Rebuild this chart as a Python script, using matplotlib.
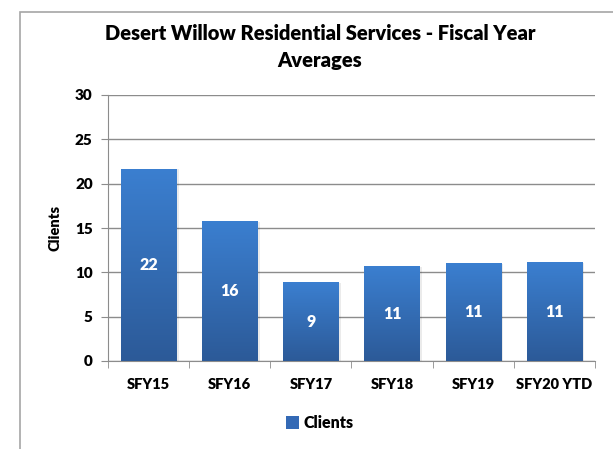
import numpy as np
import matplotlib
matplotlib.use("Agg")
from matplotlib import pyplot as plt
from matplotlib import patches
from matplotlib.colors import LinearSegmentedColormap

plt.rcParams['font.family'] = ['Lato', 'DejaVu Sans']

categories = ['SFY15', 'SFY16', 'SFY17', 'SFY18', 'SFY19', 'SFY20 YTD']
clients = [21.7, 15.8, 8.9, 10.7, 11.05, 11.15]
labels = ['22', '16', '9', '11', '11', '11']

W = 'heavy'

fig = plt.figure(figsize=(6.13, 4.49), dpi=100)
ax = fig.add_axes([108/613, 1-361/449, (595-108)/613, (361-95)/449])

# outer chart frame (cropped on right/bottom like the screenshot)
fig.patches.append(patches.Rectangle((20/613, -0.1), 1.2, 1-12/449+0.1,
                                     transform=fig.transFigure, fill=False,
                                     edgecolor='#a6a6a6', linewidth=1.2))

x = np.arange(len(categories))
bars = ax.bar(x, clients, width=0.68, color='none', edgecolor='none', zorder=3)

cmap = LinearSegmentedColormap.from_list('g', ['#2c5a98', '#3b7fd0'])
grad = np.linspace(0, 1, 256).reshape(-1, 1)
for b in bars:
    x0, w, h = b.get_x(), b.get_width(), b.get_height()
    # faint shadow
    ax.add_patch(patches.Rectangle((x0 + 0.03, 0), w, h - 0.1, facecolor='#000000',
                                   alpha=0.08, edgecolor='none', zorder=2))
    im = ax.imshow(grad, extent=[x0, x0 + w, 0, h], origin='lower', cmap=cmap,
                   aspect='auto', zorder=3)
    im.set_clip_path(b)

for xi, v, lab in zip(x, clients, labels):
    ax.text(xi, v / 2, lab, ha='center', va='center', color='white',
            fontsize=11.5, fontweight=W, zorder=4)

ax.set_xlim(-0.5, len(categories) - 0.5)
ax.set_ylim(0, 30)
ax.set_yticks(range(0, 31, 5))
ax.set_xticks(x)
ax.set_xticklabels(categories, fontsize=10.5, fontweight=W)
ax.set_xticks(np.arange(-0.5, len(categories), 1), minor=True)
ax.tick_params(axis='x', which='major', length=0, pad=12)
ax.tick_params(axis='x', which='minor', length=5, color='#8c8c8c')
ax.tick_params(axis='y', length=5, color='#8c8c8c', labelsize=11, pad=6)
for t in ax.get_yticklabels():
    t.set_fontweight(W)

ax.grid(axis='y', color='#8c8c8c', linewidth=1, zorder=0)
ax.set_axisbelow(True)
for s in ['top', 'right']:
    ax.spines[s].set_visible(False)
for s in ['left', 'bottom']:
    ax.spines[s].set_color('#8c8c8c')

ax.set_ylabel('Clients', fontsize=10.5, fontweight=W, labelpad=10)

fig.text(320/613, 1-33/449, 'Desert Willow Residential Services - Fiscal Year',
         ha='center', va='center', fontsize=14.5, fontweight=W)
fig.text(320/613, 1-60/449, 'Averages', ha='center', va='center',
         fontsize=14.5, fontweight=W)

handle = patches.Patch(facecolor='#3369b5', edgecolor='none')
fig.legend([handle], ['Clients'], loc='center', bbox_to_anchor=(320/613, 1-423/449),
           frameon=False, prop={'weight': W, 'size': 11.5},
           handlelength=0.8, handleheight=0.8, handletextpad=0.3)

fig.savefig('out.png', dpi=100)
